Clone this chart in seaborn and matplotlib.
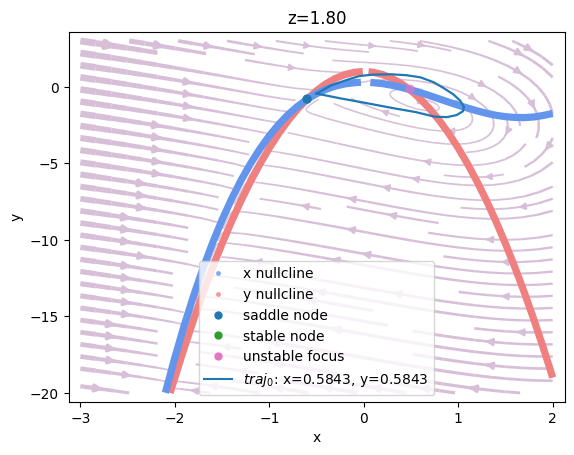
import numpy as np
import matplotlib
matplotlib.use('Agg')
import matplotlib.pyplot as plt
from matplotlib.lines import Line2D
import seaborn as sns

# model parameters used for the flow field
z = 1.8
b_par = 2.5
I_ext = 2.1
c_par = 1.0
d_par = 5.0

# x nullcline, two pieces with a small gap at x~0
xnull_left_x = [-2.10, -2.0, -1.9, -1.8, -1.7, -1.6, -1.5, -1.4, -1.3, -1.2, -1.1,
                -1.0, -0.9, -0.8, -0.7, -0.6, -0.5, -0.4, -0.3, -0.2, -0.1, -0.03]
xnull_left_y = [-19.99, -17.70, -15.58, -13.63, -11.84, -10.20, -8.70, -7.34, -6.12,
                -5.03, -4.06, -3.20, -2.45, -1.81, -1.27, -0.82, -0.45, -0.16, 0.05,
                0.19, 0.27, 0.30]
xnull_right_x = [0.07, 0.2, 0.3, 0.4, 0.5, 0.6, 0.7, 0.8, 0.9, 1.0, 1.1, 1.2, 1.3,
                 1.4, 1.5, 1.6, 1.7, 1.8, 1.9, 2.0]
xnull_right_y = [0.29, 0.21, 0.10, -0.04, -0.20, -0.38, -0.58, -0.79, -1.00, -1.20,
                 -1.39, -1.57, -1.73, -1.86, -1.95, -2.00, -2.01, -1.97, -1.87, -1.74]

# y nullcline
ynull_left_x = [-2.05, -1.9, -1.8, -1.7, -1.6, -1.5, -1.4, -1.3, -1.2, -1.1, -1.0,
                -0.9, -0.8, -0.7, -0.6, -0.5, -0.4, -0.3, -0.2, -0.1, -0.01]
ynull_left_y = [-20.0, -17.05, -15.2, -13.45, -11.8, -10.25, -8.8, -7.45, -6.2, -5.05,
                -4.0, -3.05, -2.2, -1.45, -0.8, -0.25, 0.2, 0.55, 0.8, 0.95, 1.0]
ynull_right_x = [0.05, 0.1, 0.2, 0.3, 0.4, 0.5, 0.6, 0.7, 0.8, 0.9, 1.0, 1.1, 1.2,
                 1.3, 1.4, 1.5, 1.6, 1.7, 1.8, 1.9, 2.0]
ynull_right_y = [0.99, 0.95, 0.8, 0.55, 0.2, -0.25, -0.8, -1.45, -2.2, -3.05, -4.0,
                 -5.05, -6.2, -7.45, -8.8, -10.25, -11.8, -13.45, -15.2, -17.05, -19.0]

# fixed points
saddle_x, saddle_y = [-0.60], [-0.80]
stable_x, stable_y = [-2.27], [-24.8]
focus_x, focus_y = [0.49], [-0.15]

# trajectory (closed loop)
traj_x = [-0.50, -0.35, -0.17, -0.05, 0.10, 0.29, 0.45, 0.60, 0.74, 0.85, 0.95,
          1.02, 1.06, 1.05, 0.98, 0.88, 0.75, 0.55, 0.30, 0.00, -0.25, -0.50]
traj_y = [-0.44, 0.08, 0.47, 0.70, 0.80, 0.82, 0.76, 0.62, 0.30, -0.10, -0.50,
          -0.90, -1.30, -1.60, -1.85, -1.98, -1.95, -1.65, -1.38, -1.03, -0.75, -0.44]
traj_label = r'$traj_0$: x=0.5843, y=0.5843'

fig, ax = plt.subplots(figsize=(6.4, 4.8))

# flow field
xg = np.linspace(-3, 2, 100)
yg = np.linspace(-20, 3, 100)
X, Y = np.meshgrid(xg, yg)
U = Y - X**3 + b_par * X**2 + I_ext - z
V = c_par - d_par * X**2 - Y
speed = np.sqrt(U**2 + V**2)
lw = 1 + 4 * speed / speed.max()
ax.streamplot(X, Y, U, V, color='thistle', linewidth=lw, density=1, zorder=1)

# nullclines
for xs, ys in [(xnull_left_x, xnull_left_y), (xnull_right_x, xnull_right_y)]:
    sns.lineplot(x=xs, y=ys, sort=False, estimator=None, color='cornflowerblue',
                 lw=5.2, solid_capstyle='butt', ax=ax, legend=False, zorder=3)
for xs, ys in [(ynull_left_x, ynull_left_y), (ynull_right_x, ynull_right_y)]:
    sns.lineplot(x=xs, y=ys, sort=False, estimator=None, color='lightcoral',
                 lw=5.2, solid_capstyle='butt', ax=ax, legend=False, zorder=2)

# fixed points
sns.scatterplot(x=focus_x, y=focus_y, color='tab:pink', s=45, alpha=0.7,
                edgecolor='none', ax=ax, zorder=4)
sns.scatterplot(x=stable_x, y=stable_y, color='tab:green', s=45,
                edgecolor='none', ax=ax, zorder=4)

# trajectory
sns.lineplot(x=traj_x, y=traj_y, sort=False, estimator=None, color='tab:blue',
             lw=1.6, ax=ax, legend=False, zorder=5)

sns.scatterplot(x=saddle_x, y=saddle_y, color='tab:blue', s=45,
                edgecolor='none', ax=ax, zorder=6)

ax.set_xlim(-3.125, 2.125)
ax.set_ylim(-20.575, 3.575)
ax.set_title('z=1.80')
ax.set_xlabel('x')
ax.set_ylabel('y')

handles = [
    Line2D([], [], ls='', marker='o', ms=3.5, color='cornflowerblue', alpha=0.8, mec='none'),
    Line2D([], [], ls='', marker='o', ms=3.5, color='lightcoral', alpha=0.8, mec='none'),
    Line2D([], [], ls='', marker='o', ms=6, color='tab:blue', mec='none'),
    Line2D([], [], ls='', marker='o', ms=6, color='tab:green', mec='none'),
    Line2D([], [], ls='', marker='o', ms=6, color='tab:pink', mec='none'),
    Line2D([], [], color='tab:blue', lw=1.5),
]
labels = ['x nullcline', 'y nullcline', 'saddle node', 'stable node',
          'unstable focus', traj_label]
ax.legend(handles, labels, loc='lower center')

plt.savefig('out.png', bbox_inches='tight')
